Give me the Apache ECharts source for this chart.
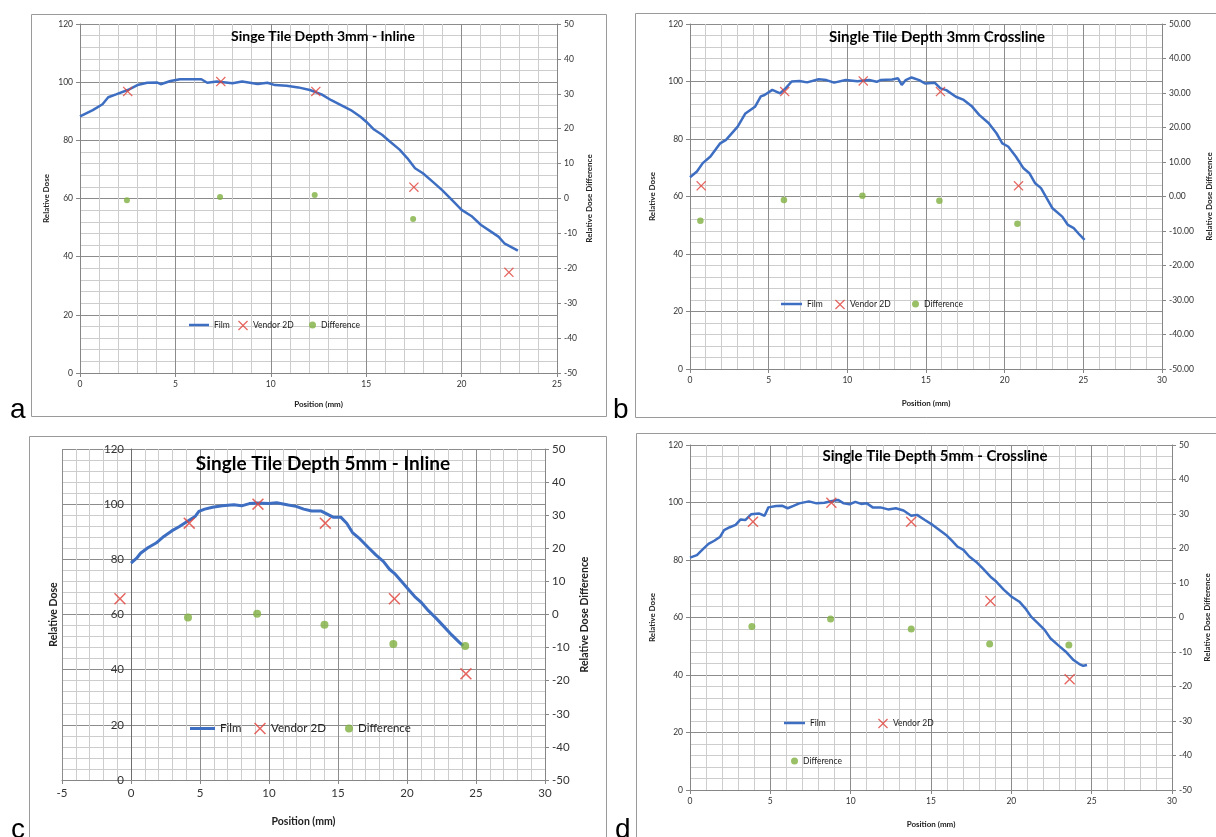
<!DOCTYPE html>
<html>
<head>
<meta charset="utf-8">
<script src="https://cdn.jsdelivr.net/npm/echarts@6/dist/echarts.min.js"></script>
<style>
  html, body { margin: 0; padding: 0; background: #fff; }
  #chart { width: 1216px; height: 837px; }
</style>
</head>
<body>
<div id="chart"></div>
<script>
const FONT = 'Lato, "Open Sans", sans-serif'
const BLUE = '#3d6ec2'
const RED = '#e0413a'
const GREEN = '#80b040'
const X_ICON = 'path://M0,0.9L0.9,0L5,4.1L9.1,0L10,0.9L5.9,5L10,9.1L9.1,10L5,5.9L0.9,10L0,9.1L4.1,5Z'

// a: Singe Tile Depth 3mm - Inline  [position mm, relative dose]
const filmA = [[0, 88.2], [0.67, 90.4], [1.18, 92.4], [1.48, 94.8], [1.89, 95.8], [2.5, 97.3], [3.01, 99.0], [3.52, 99.8], [4.03, 99.9], [4.23, 99.3], [4.74, 100.4], [5.24, 101.0], [6.36, 101.0], [6.67, 99.8], [7.17, 100.2], [7.99, 99.6], [8.5, 100.2], [9.31, 99.4], [9.82, 99.8], [10.22, 99.0], [10.83, 98.8], [11.44, 98.2], [12.05, 97.3], [12.66, 95.8], [13.17, 93.8], [13.68, 92.1], [14.19, 90.4], [14.7, 88.1], [15.0, 86.4], [15.41, 83.7], [15.83, 81.9], [16.24, 79.6], [16.75, 76.8], [17.15, 73.9], [17.56, 70.4], [17.97, 68.7], [18.48, 65.8], [18.98, 62.9], [19.49, 59.5], [20.0, 56.1], [20.51, 54.0], [21.02, 50.9], [21.52, 48.7], [21.93, 46.9], [22.24, 44.6], [22.95, 42.1]]
const vendorA = [[2.5, 96.8], [7.38, 100.2], [12.36, 96.8], [17.5, 63.9], [22.48, 34.6]]
const diffA = [[2.46, -0.5], [7.34, 0.4], [12.3, 1.0], [17.46, -5.9]]

// b: Single Tile Depth 3mm Crossline
const filmB = [[0, 66.7], [0.44, 68.7], [0.81, 71.6], [1.3, 73.9], [1.92, 78.5], [2.29, 79.7], [3.03, 84.3], [3.52, 88.9], [4.13, 91.2], [4.5, 94.8], [4.74, 95.3], [5.23, 97.1], [5.73, 95.9], [6.09, 97.7], [6.46, 100.0], [6.95, 100.2], [7.44, 99.7], [8.18, 100.8], [8.67, 100.5], [9.16, 99.6], [9.9, 100.5], [10.64, 100.1], [11.38, 100.5], [11.87, 99.9], [12.11, 100.5], [12.85, 100.7], [13.22, 101.1], [13.46, 98.8], [13.71, 100.5], [14.08, 101.4], [14.57, 100.5], [14.94, 99.3], [15.55, 99.6], [15.92, 97.6], [16.29, 97.0], [16.9, 94.7], [17.4, 93.6], [17.89, 91.5], [18.38, 88.4], [18.99, 85.5], [19.48, 82.0], [19.85, 78.5], [20.22, 77.4], [20.71, 73.9], [21.2, 69.8], [21.57, 68.1], [21.94, 64.6], [22.31, 62.9], [22.67, 59.4], [23.04, 55.9], [23.66, 53.0], [24.02, 50.1], [24.39, 49.0], [24.76, 46.7], [25.08, 44.9]]
const vendorB = [[0.71, 63.7], [6.02, 96.5], [11.01, 100.2], [15.92, 96.5], [20.88, 63.7]]
const diffB = [[0.66, -7.0], [5.97, -1.0], [10.96, 0.2], [15.85, -1.2], [20.81, -7.9]]

// c: Single Tile Depth 5mm - Inline
const filmC = [[0, 78.6], [0.41, 80.4], [0.69, 82.2], [1.25, 84.3], [1.82, 85.9], [2.38, 88.3], [2.95, 90.3], [3.51, 91.9], [4.07, 93.7], [4.64, 95.5], [4.92, 97.4], [5.34, 98.2], [5.91, 98.9], [6.61, 99.4], [7.45, 99.8], [8.02, 99.4], [8.58, 100.2], [9.14, 100.4], [9.99, 100.2], [10.55, 100.5], [11.4, 99.7], [11.96, 99.2], [12.52, 98.2], [13.09, 97.5], [13.79, 97.5], [14.22, 96.4], [14.64, 95.3], [15.2, 95.3], [15.63, 93.1], [16.05, 89.7], [16.61, 87.3], [17.18, 84.4], [17.74, 81.6], [18.3, 79.2], [18.73, 76.4], [19.15, 74.6], [19.72, 71.3], [20.14, 68.9], [20.56, 66.5], [20.99, 64.6], [21.55, 61.4], [22.12, 58.6], [22.68, 55.6], [23.24, 52.6], [23.81, 49.8], [24.08, 48.6]]
const vendorC = [[-0.8, 65.7], [4.22, 93.1], [9.2, 100.0], [14.08, 93.1], [19.09, 65.7], [24.27, 38.5]]
const diffC = [[4.13, -0.9], [9.14, 0.2], [14.02, -3.1], [19.01, -8.9], [24.22, -9.5]]

// d: Single Tile Depth 5mm - Crossline
const filmD = [[0, 80.8], [0.43, 81.7], [0.79, 83.7], [1.15, 85.6], [1.51, 86.7], [1.88, 88.1], [2.12, 90.4], [2.48, 91.4], [2.84, 92.2], [3.15, 94.1], [3.44, 93.9], [3.8, 95.9], [4.28, 96.2], [4.64, 95.4], [4.88, 98.3], [5.36, 98.8], [5.72, 98.9], [6.08, 98.0], [6.44, 98.8], [6.8, 99.7], [7.4, 100.4], [7.88, 99.7], [8.37, 99.9], [8.85, 100.5], [9.21, 100.9], [9.57, 99.7], [9.93, 99.4], [10.29, 100.2], [10.65, 99.5], [11.01, 99.7], [11.37, 98.3], [11.85, 98.3], [12.33, 97.6], [12.81, 98.0], [13.29, 97.2], [13.77, 95.4], [14.13, 95.7], [14.62, 93.9], [15.1, 92.2], [15.46, 90.7], [15.94, 88.7], [16.3, 86.7], [16.66, 84.6], [17.02, 83.5], [17.38, 81.2], [17.86, 79.1], [18.22, 77.1], [18.7, 74.2], [19.06, 72.5], [19.54, 69.6], [20.02, 67.2], [20.5, 65.5], [20.87, 63.2], [21.23, 60.3], [21.71, 57.7], [22.07, 55.7], [22.43, 52.8], [22.91, 50.4], [23.39, 48.1], [23.87, 45.2], [24.23, 43.8], [24.47, 43.2], [24.71, 43.5]]
const vendorD = [[3.92, 93.3], [8.8, 99.9], [13.77, 93.3], [18.7, 65.7], [23.63, 38.5]]
const diffD = [[3.85, -2.6], [8.75, -0.4], [13.77, -3.3], [18.65, -7.7], [23.58, -8.0]]

const titles = ['Singe Tile Depth 3mm - Inline', 'Single Tile Depth 3mm Crossline', 'Single Tile Depth 5mm - Inline', 'Single Tile Depth 5mm - Crossline']
const doseTicks = { min: 0, max: 120, interval: 20 }
const diffTicks = { min: -50, max: 50, interval: 10 }

// layout of the four panels (yOff moves the dose axis onto x = 0 in panel c)
const panels = [
  { film: filmA, vendor: vendorA, diff: diffA, xMin: 0, xMax: 25,
    grid: { left: 80, top: 24, width: 477, height: 349 }, title: [318, 24, 14],
    fs: 8.5, nfs: 8, yGap: 30, rGap: 28, xGap: 27, yOff: 0, dec: 0,
    lw: 2.5, xs: 10, ds: 6,
    legend: [[189, 326, 20], [238, 326, 10], [309, 326, 7]] },
  { film: filmB, vendor: vendorB, diff: diffB, xMin: 0, xMax: 30,
    grid: { left: 690, top: 24, width: 472, height: 345 }, title: [932, 25, 15],
    fs: 8.5, nfs: 8, yGap: 34, rGap: 43, xGap: 30, yOff: 0, dec: 2,
    lw: 2.5, xs: 10, ds: 6.5,
    legend: [[781, 305, 21], [835, 305, 10], [912, 305, 7]] },
  { film: filmC, vendor: vendorC, diff: diffC, xMin: -5, xMax: 30,
    grid: { left: 62, top: 449, width: 483, height: 331 }, title: [318, 449, 19],
    fs: 11.5, nfs: 10.5, yGap: 72, rGap: 34, xGap: 36, yOff: -69, dec: 0,
    lw: 3, xs: 12, ds: 8,
    legend: [[190, 730, 25], [254, 730, 12], [345, 730, 8]] },
  { film: filmD, vendor: vendorD, diff: diffD, xMin: 0, xMax: 30,
    grid: { left: 690, top: 445, width: 482, height: 345 }, title: [930, 444, 15],
    fs: 8.5, nfs: 8, yGap: 34, rGap: 31, xGap: 30, yOff: 0, dec: 0,
    lw: 2.5, xs: 11, ds: 7,
    legend: [[784, 724, 21], [878, 724, 10], [791, 762, 7]] }
]

const AXIS_GREY = '#868686'
const grids = [], xAxes = [], yAxes = [], series = [], titleList = [], legends = []

panels.forEach((p, i) => {
  grids.push(p.grid)
  titleList.push({
    text: titles[i], left: p.title[0], top: p.title[1], textAlign: 'center',
    textStyle: { fontFamily: FONT, fontWeight: 'bold', fontSize: p.title[2], color: '#000' }
  })
  const lbl = { fontFamily: FONT, fontSize: p.fs, color: '#333' }
  const nameStyle = { fontFamily: FONT, fontSize: p.nfs, fontWeight: 'bold', color: '#222' }
  xAxes.push({
    type: 'value', gridIndex: i, min: p.xMin, max: p.xMax, interval: 5,
    name: 'Position (mm)', nameLocation: 'middle', nameGap: p.xGap, nameTextStyle: nameStyle,
    axisLine: { onZero: false, lineStyle: { color: AXIS_GREY } },
    axisTick: { show: true, length: 4, lineStyle: { color: AXIS_GREY } },
    minorTick: { show: false, splitNumber: 5 },
    splitLine: { show: true, lineStyle: { color: '#8c8c8c' } },
    minorSplitLine: { show: true, lineStyle: { color: '#cdcdcd' } },
    axisLabel: { ...lbl, margin: 7 }
  })
  yAxes.push({
    type: 'value', gridIndex: i, position: 'left', offset: p.yOff, ...doseTicks,
    name: 'Relative Dose', nameLocation: 'middle', nameGap: p.yGap, nameTextStyle: nameStyle,
    axisLine: { show: true, onZero: false, lineStyle: { color: p.yOff ? '#6e6e6e' : AXIS_GREY } },
    axisTick: { show: true, length: 4, lineStyle: { color: AXIS_GREY } },
    minorTick: { show: false, splitNumber: 5 },
    splitLine: { show: true, lineStyle: { color: '#8c8c8c' } },
    minorSplitLine: { show: true, lineStyle: { color: '#cdcdcd' } },
    axisLabel: { ...lbl, margin: 7 }
  })
  yAxes.push({
    type: 'value', gridIndex: i, position: 'right', ...diffTicks,
    name: 'Relative Dose Difference', nameLocation: 'middle', nameGap: p.rGap, nameTextStyle: nameStyle,
    nameRotate: 90,
    axisLine: { show: true, onZero: false, lineStyle: { color: AXIS_GREY } },
    axisTick: { show: true, length: 4, lineStyle: { color: AXIS_GREY } },
    splitLine: { show: false },
    axisLabel: { ...lbl, margin: 7, formatter: v => v.toFixed(p.dec) }
  })
  series.push({
    name: 'Film', type: 'line', xAxisIndex: i, yAxisIndex: 2 * i, data: p.film,
    symbol: 'none', lineStyle: { color: BLUE, width: p.lw }, itemStyle: { color: BLUE }, z: 3
  })
  series.push({
    name: 'Vendor 2D', type: 'scatter', xAxisIndex: i, yAxisIndex: 2 * i, data: p.vendor,
    symbol: X_ICON, symbolSize: p.xs, itemStyle: { color: RED }, z: 4
  })
  series.push({
    name: 'Difference', type: 'scatter', xAxisIndex: i, yAxisIndex: 2 * i + 1, data: p.diff,
    symbol: 'circle', symbolSize: p.ds, itemStyle: { color: GREEN }, z: 4
  })
  const names = ['Film', 'Vendor 2D', 'Difference']
  const icons = ['rect', X_ICON, 'circle']
  const colors = [BLUE, RED, GREEN]
  p.legend.forEach(([left, cy, w], k) => {
    const h = k === 0 ? (i === 2 ? 3 : 2.5) : w
    const lineH = Math.round(p.fs * 1.3)
    legends.push({
      data: [{ name: names[k], icon: icons[k], itemStyle: { color: colors[k] } }],
      left, top: cy - Math.max(h, lineH) / 2, itemWidth: w, itemHeight: h, padding: 0,
      selectedMode: false,
      textStyle: { fontFamily: FONT, fontSize: p.fs, color: '#222' }
    })
  })
})

const frame = (x, y, w, h) => ({
  type: 'rect', shape: { x, y, width: w, height: h }, silent: true,
  style: { fill: 'none', stroke: '#9a9a9a', lineWidth: 1 }
})
const letter = (t, x, y) => ({
  type: 'text', x, y, silent: true,
  style: { text: t, font: '28px "Liberation Sans", Arial, sans-serif', fill: '#000', verticalAlign: 'middle' }
})

const chart = echarts.init(document.getElementById('chart'), null, { renderer: 'canvas' })
chart.setOption({
  backgroundColor: '#fff',
  animation: false,
  title: titleList,
  grid: grids,
  xAxis: xAxes,
  yAxis: yAxes,
  legend: legends,
  series,
  graphic: [
    frame(31.5, 14.5, 575, 402), frame(635.5, 13.5, 600, 404),
    frame(29.5, 436.5, 577, 420), frame(636.5, 433.5, 600, 420),
    letter('a', 10, 410), letter('b', 613, 410), letter('c', 11, 830), letter('d', 615, 830)
  ]
})
</script>
</body>
</html>
